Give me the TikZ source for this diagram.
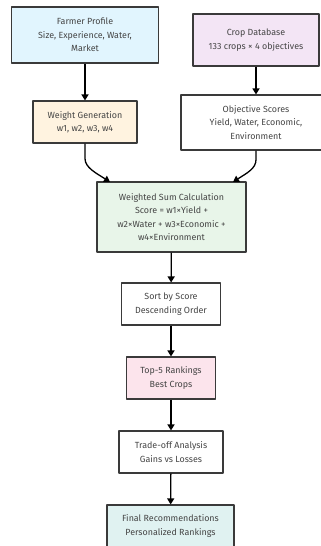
\documentclass[tikz,border=0pt]{standalone}
\usepackage{fontspec}
\setmainfont{Fira Sans}
\usetikzlibrary{arrows.meta}
\definecolor{boxline}{HTML}{3A3A3A}
\definecolor{txt}{HTML}{454545}
\definecolor{farmerfill}{HTML}{E1F5FE}
\definecolor{cropfill}{HTML}{F3E5F5}
\definecolor{weightfill}{HTML}{FFF3E0}
\definecolor{calcfill}{HTML}{E8F5E9}
\definecolor{topfill}{HTML}{FCE4EC}
\definecolor{finalfill}{HTML}{E0F2F1}
\begin{document}
\begin{tikzpicture}[x=1pt, y=-1pt, line join = round,
	box/.style={draw=boxline, line width=1.1pt, align=center, text=txt, inner sep=0pt,
		font=\fontsize{8.9}{13.3}\selectfont},
	arr/.style={line width=1.3pt, -{Triangle[length=6pt,width=7pt]}}]
	\useasboundingbox (0,0) rectangle (321,546);
	\clip (0,0) rectangle (321,546);
	\node[box, fill=farmerfill, minimum width=147pt, minimum height=56pt] (farmer) at (85,35) {Farmer Profile\\Size, Experience, Water,\\Market};
	\node[box, fill=cropfill, minimum width=126pt, minimum height=52pt] (crops) at (256,40) {Crop Database\\133 crops × 4 objectives};
	\node[box, fill=weightfill, minimum width=104pt, minimum height=42pt] (weight) at (85,122) {Weight Generation\\w1, w2, w3, w4};
	\node[box, fill=white, minimum width=150pt, minimum height=55pt] (scores) at (256,122.5) {Objective Scores\\Yield, Water, Economic,\\Environment};
	\node[box, fill=calcfill, minimum width=149pt, minimum height=70pt] (calc) at (171.5,217) {Weighted Sum Calculation\\Score = w1×Yield +\\w2×Water + w3×Economic +\\w4×Environment};
	\node[box, fill=white, minimum width=99pt, minimum height=42pt] (sort) at (171,304) {Sort by Score\\Descending Order};
	\node[box, fill=topfill, minimum width=89pt, minimum height=42pt] (top) at (171,378) {Top-5 Rankings\\Best Crops};
	\node[box, fill=white, minimum width=104pt, minimum height=42pt] (trade) at (171,452) {Trade-off Analysis\\Gains vs Losses};
	\node[box, fill=finalfill, minimum width=127pt, minimum height=42pt] (final) at (170.5,526) {Final Recommendations\\Personalized Rankings};
	\coordinate (in1) at (110,182); % вход слева
	\coordinate (in2) at (233,182); % вход справа
	\draw[arr] (farmer) -- (weight);
	\draw[arr] (crops) -- (scores);
	\draw[arr] (weight.south) -- ++(0,15) .. controls ++(0,9) and (96,173) .. (in1);
	\draw[arr] (scores.south) -- ++(0,9) .. controls ++(0,9) and (247,173) .. (in2);
	\draw[arr] (calc) -- (sort);
	\draw[arr] (sort) -- (top);
	\draw[arr] (top) -- (trade);
	\draw[arr] (trade) -- (final);
\end{tikzpicture}
\end{document}
